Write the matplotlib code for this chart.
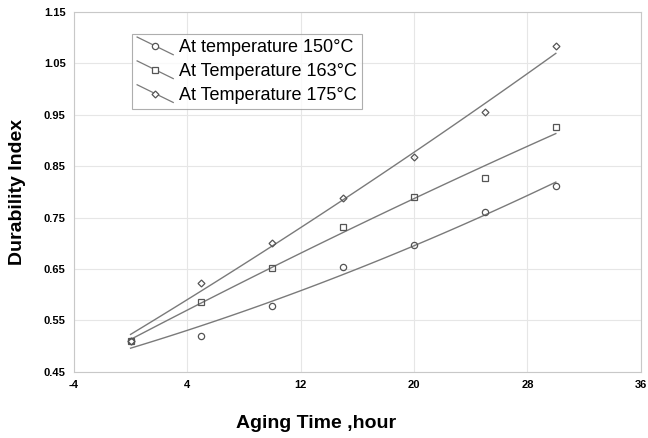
"""Durability index vs aging time at three temperatures."""

import matplotlib

matplotlib.use("Agg")
import matplotlib.pyplot as plt  # noqa: E402
import numpy as np  # noqa: E402
from matplotlib.legend_handler import HandlerBase  # noqa: E402
from matplotlib.lines import Line2D  # noqa: E402

plt.rcParams["font.family"] = ["Liberation Sans", "DejaVu Sans"]

# data
aging_hours = [0, 5, 10, 15, 20, 25, 30]
index_150 = [0.510, 0.520, 0.578, 0.654, 0.697, 0.761, 0.812]
index_163 = [0.510, 0.586, 0.652, 0.732, 0.790, 0.827, 0.926]
index_175 = [0.510, 0.623, 0.701, 0.788, 0.868, 0.955, 1.083]
labels = ["At temperature 150°C", "At Temperature 163°C", "At Temperature 175°C"]
markers = ["o", "s", "D"]
x_ticks = [-4, 4, 12, 20, 28, 36]
y_ticks = [0.45, 0.55, 0.65, 0.75, 0.85, 0.95, 1.05, 1.15]

LINE_COLOR = "#7a7a7a"
EDGE_COLOR = "#555555"


def _msize(marker):
    return 3.5 if marker == "D" else 4.5


class SlantHandler(HandlerBase):
    """Legend key drawn as a sloping line with the marker in the middle."""

    def create_artists(self, legend, orig, xdescent, ydescent, width, height,
                       fontsize, trans):
        x0, x1 = -xdescent, -xdescent + width
        y0, y1 = -ydescent + height * 1.2, -ydescent - height * 0.2
        line = Line2D([x0, x1], [y0, y1], color=LINE_COLOR, linewidth=0.9,
                      transform=trans)
        mark = Line2D([(x0 + x1) / 2], [(y0 + y1) / 2], linestyle="none",
                      marker=orig.get_marker(), markersize=orig.get_markersize(),
                      markerfacecolor="white", markeredgecolor=EDGE_COLOR,
                      markeredgewidth=0.9, transform=trans)
        return [line, mark]


fig = plt.figure(figsize=(6.48, 4.38), dpi=100)
ax = fig.add_axes([0.114, 0.151, 0.875, 0.822])

x = np.array(aging_hours, dtype=float)
xs = np.linspace(x.min(), x.max(), 100)
handles = []
for series, marker, label in zip([index_150, index_163, index_175], markers, labels):
    coef = np.polyfit(x, series, 2)
    ax.plot(xs, np.polyval(coef, xs), color=LINE_COLOR, linewidth=1.0)
    ax.plot(
        x, series, linestyle="none", marker=marker, markersize=_msize(marker),
        markerfacecolor="none", markeredgecolor=EDGE_COLOR, markeredgewidth=0.9,
    )
    handles.append(Line2D([], [], marker=marker, markersize=_msize(marker),
                          label=label))

ax.set_xlim(-4, 36)
ax.set_ylim(0.45, 1.15)
ax.set_xticks(x_ticks)
ax.set_yticks(y_ticks)
ax.set_xticklabels([f"{t:g}" for t in x_ticks], fontweight="bold", fontsize=8)
ax.set_yticklabels([f"{t:.2f}" for t in y_ticks], fontweight="bold", fontsize=8)
ax.tick_params(length=0, pad=6)
ax.grid(True, color="#e6e6e6", linewidth=0.8)
for spine in ax.spines.values():
    spine.set_color("#c8c8c8")
    spine.set_linewidth(0.8)

ax.set_xlabel("Aging Time ,hour", fontweight="bold", fontsize=14)
ax.set_ylabel("Durability Index", fontweight="bold", fontsize=14)
ax.xaxis.set_label_coords(0.428, -0.12)
ax.yaxis.set_label_coords(-0.084, 0.5)

leg = ax.legend(
    handles=handles, handler_map={Line2D: SlantHandler()},
    loc="upper left", bbox_to_anchor=(0.102, 0.939), fontsize=13,
    frameon=True, fancybox=False, edgecolor="#9a9a9a",
    handlelength=2.0, handletextpad=0.3, labelspacing=0.38,
    borderpad=0.3, borderaxespad=0,
)
leg.get_frame().set_linewidth(0.8)

fig.savefig("out.png", dpi=100)
